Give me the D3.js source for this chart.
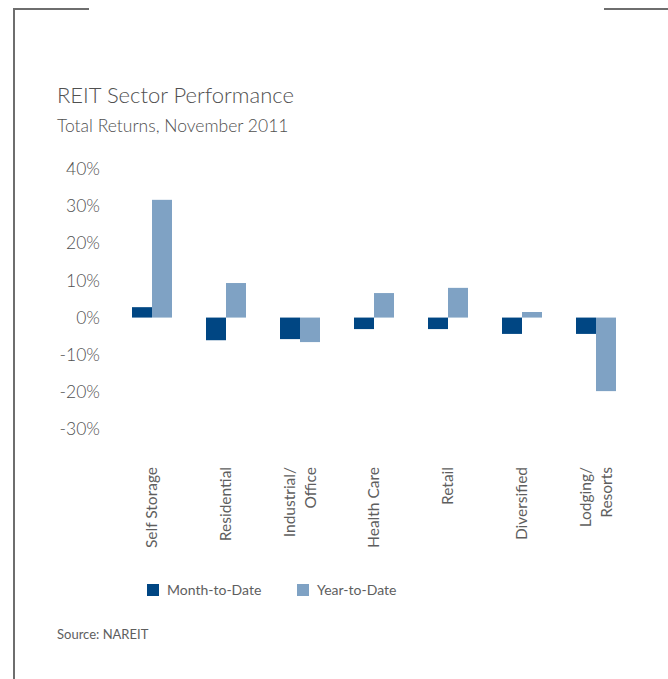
<!DOCTYPE html>
<html>
<head>
<meta charset="utf-8">
<script src="https://cdn.jsdelivr.net/npm/d3@7"></script>
<style>
  body { margin: 0; background: #fff; }
  text { font-family: Lato, "Open Sans", sans-serif; fill: #5e5e5e; }
</style>
</head>
<body>
<svg></svg>
<script>
 var sectors = ["Self Storage", "Residential", "Industrial/\nOffice", "Health Care", "Retail", "Diversified", "Lodging/\nResorts"];
 var monthToDate = [2.8, -6.1, -5.8, -3.1, -3.1, -4.4, -4.4];
 var yearToDate = [31.7, 9.3, -6.6, 6.6, 8.0, 1.5, -19.8];
 var yTicks = [40, 30, 20, 10, 0, -10, -20, -30];
 var seriesNames = ["Month-to-Date", "Year-to-Date"];
 var colors = ["#004683", "#7fa2c4"];

 var svgWidth = 668;
 var svgHeight = 679;
 var barWidth = 20;

 var svg = d3.select("svg")
     .attr("width", svgWidth)
     .attr("height", svgHeight);

 // frame pieces
 svg.append("path")
     .attr("d", "M89,9H14V679")
     .attr("fill", "none")
     .attr("stroke", "#6e6e6e")
     .attr("stroke-width", 2);
 svg.append("line")
     .attr("x1", 604).attr("x2", 668)
     .attr("y1", 9).attr("y2", 9)
     .attr("stroke", "#6e6e6e")
     .attr("stroke-width", 2);

 // titles (light weight)
 svg.append("text")
     .attr("x", 57).attr("y", 103)
     .style("font-size", "22px")
     .style("font-weight", 300)
     .attr("fill", "#505050")
     .style("fill", "#505050")
     .text("REIT Sector Performance");
 svg.append("text")
     .attr("x", 57).attr("y", 132)
     .style("font-size", "17.5px")
     .style("font-weight", 300)
     .style("fill", "#505050")
     .text("Total Returns, November 2011");

 var x = d3.scaleBand()
     .domain(sectors)
     .range([115, 633]);

 var y = d3.scaleLinear()
     .domain([-30, 40])
     .range([429, 169]);

 // y axis, labels only
 var yAxis = svg.append("g")
     .attr("transform", "translate(100,0)")
     .call(d3.axisLeft(y).tickValues(yTicks).tickSize(0).tickPadding(0)
         .tickFormat(function(d) { return d + "%"; }));
 yAxis.select(".domain").remove();
 yAxis.selectAll("text")
     .style("font-family", "Lato, 'Open Sans', sans-serif")
     .style("font-size", "17.5px")
     .style("font-weight", 300)
     .style("fill", "#505050");

 // bars
 var series = [monthToDate, yearToDate];
 series.forEach(function(values, s) {
     svg.append("g")
         .selectAll("rect")
         .data(values)
         .enter()
         .append("rect")
         .attr("x", function(d, i) {
             return x(sectors[i]) + x.bandwidth() / 2 - barWidth + s * barWidth;
         })
         .attr("y", function(d) { return y(Math.max(d, 0)); })
         .attr("width", barWidth)
         .attr("height", function(d) { return Math.abs(y(d) - y(0)); })
         .attr("fill", colors[s]);
 });

 // category labels, rotated
 var labels = svg.append("g")
     .selectAll("text")
     .data(sectors)
     .enter()
     .append("text")
     .attr("text-anchor", "end")
     .style("font-size", "15.5px")
     .attr("transform", function(d) {
         return "translate(" + (x(d) + x.bandwidth() / 2) + ",467) rotate(-90)";
     });
 labels.each(function(d) {
     var lines = d.split("\n");
     var t = d3.select(this);
     lines.forEach(function(line, k) {
         var offset = (k - (lines.length - 1) / 2) * 21;
         t.append("tspan")
             .attr("x", 0)
             .attr("y", offset)
             .attr("dy", "0.35em")
             .text(line);
     });
 });

 // legend
 var legendX = [147, 297];
 var legend = svg.append("g")
     .selectAll("g")
     .data(seriesNames)
     .enter()
     .append("g")
     .attr("transform", function(d, i) { return "translate(" + legendX[i] + ",584)"; });
 legend.append("rect")
     .attr("width", 12)
     .attr("height", 12)
     .attr("fill", function(d, i) { return colors[i]; });
 legend.append("text")
     .attr("x", 20)
     .attr("y", 11)
     .style("font-size", "14px")
     .text(function(d) { return d; });

 svg.append("text")
     .attr("x", 57).attr("y", 639)
     .style("font-size", "13px")
     .text("Source: NAREIT");
</script>
</body>
</html>
